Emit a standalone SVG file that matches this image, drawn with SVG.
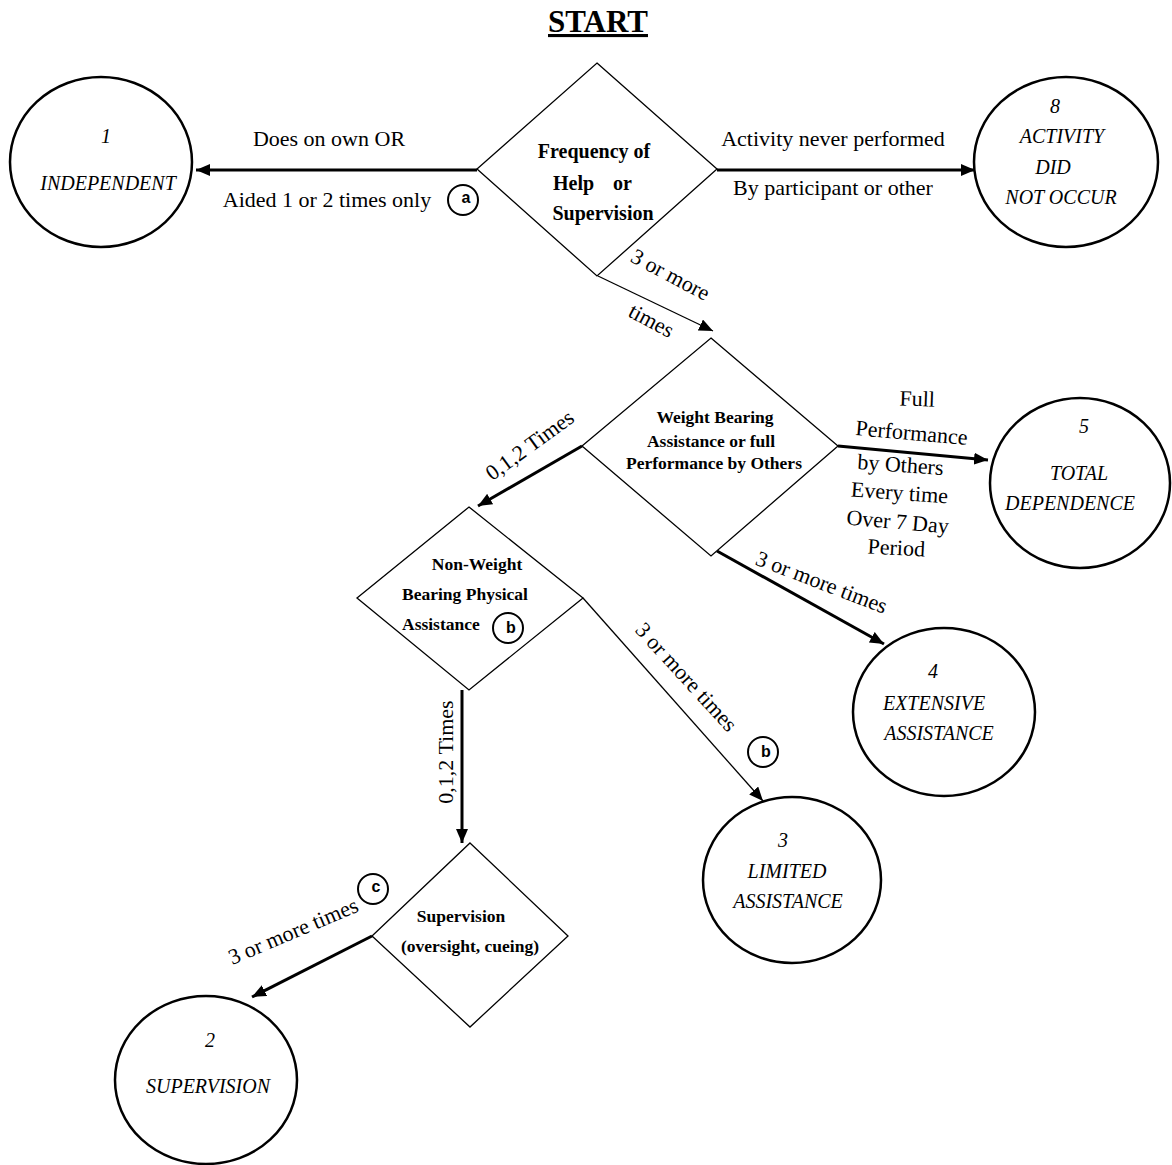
<svg xmlns="http://www.w3.org/2000/svg" width="1172" height="1165" viewBox="0 0 1172 1165">
<style>
.bg{fill:#fff}
.c{fill:#fff;stroke:#000;stroke-width:2.5}
.d{fill:#fff;stroke:#000;stroke-width:1.3}
.thick{fill:none;stroke:#000;stroke-width:3}
.thin{fill:none;stroke:#000;stroke-width:1.3}
.t{font-family:"Liberation Serif","Times New Roman",serif;font-size:22px;fill:#000}
.db{font-family:"Liberation Serif","Times New Roman",serif;font-weight:bold;font-size:17.5px;fill:#000}
.ci{font-family:"Liberation Serif","Times New Roman",serif;font-style:italic;font-size:20px;fill:#000}
.mc{fill:#fff;stroke:#000;stroke-width:2}
.ml{font-family:"Liberation Sans",Arial,sans-serif;font-weight:bold;font-size:16px;fill:#000}
</style>
<defs>
<marker id="ah" markerUnits="userSpaceOnUse" viewBox="0 0 14 12" refX="14" refY="6" markerWidth="14" markerHeight="12" orient="auto">
<path d="M0,0 L14,6 L0,12 z" fill="#000"/>
</marker>
</defs>
<rect class="bg" x="0" y="0" width="1172" height="1165"/>

<text id="title" x="598" y="32" text-anchor="middle" style="font-family:'Liberation Serif','Times New Roman',serif;font-weight:bold;font-size:31px;text-decoration:underline">START</text>

<g id="connectors">
<line class="thick" x1="477" y1="170" x2="196" y2="170" marker-end="url(#ah)"/>
<line class="thick" x1="717" y1="170" x2="975" y2="170" marker-end="url(#ah)"/>
<line class="thin" x1="598" y1="276" x2="713" y2="331" marker-end="url(#ah)"/>
<line class="thick" x1="838" y1="446" x2="988" y2="460" marker-end="url(#ah)"/>
<line class="thick" x1="582" y1="446" x2="478" y2="506" marker-end="url(#ah)"/>
<line class="thick" x1="717" y1="551" x2="884" y2="644" marker-end="url(#ah)"/>
<line class="thin" x1="583" y1="598" x2="763" y2="801" marker-end="url(#ah)"/>
<line class="thick" x1="462" y1="690" x2="462" y2="843" marker-end="url(#ah)"/>
<line class="thick" x1="372" y1="936" x2="252" y2="997" marker-end="url(#ah)"/>

<text class="t" x="329" y="146" text-anchor="middle">Does on own OR</text>
<text class="t" x="327" y="207" text-anchor="middle">Aided 1 or 2 times only</text>
<circle class="mc" cx="463" cy="200" r="15"/>
<text class="ml" x="466" y="203" text-anchor="middle">a</text>

<text class="t" x="833" y="146" text-anchor="middle">Activity never performed</text>
<text class="t" x="833" y="195" text-anchor="middle">By participant or other</text>

<text class="t" transform="translate(667,281) rotate(28)" text-anchor="middle">3 or more</text>
<text class="t" transform="translate(648,327) rotate(28)" text-anchor="middle">times</text>

<text class="t" transform="translate(917,406) rotate(2)" text-anchor="middle">Full</text>
<text class="t" transform="translate(911,440) rotate(5)" text-anchor="middle">Performance</text>
<text class="t" transform="translate(900,472) rotate(4)" text-anchor="middle">by Others</text>
<text class="t" transform="translate(899,500) rotate(4)" text-anchor="middle">Every time</text>
<text class="t" transform="translate(897,529) rotate(5)" text-anchor="middle">Over 7 Day</text>
<text class="t" transform="translate(896,555) rotate(3)" text-anchor="middle">Period</text>

<text class="t" transform="translate(534,451) rotate(-36)" text-anchor="middle">0,1,2 Times</text>
<text class="t" transform="translate(819,589) rotate(21)" text-anchor="middle">3 or more times</text>
<text class="t" transform="translate(681,682) rotate(47.5)" text-anchor="middle">3 or more times</text>
<circle class="mc" cx="763" cy="752" r="15"/>
<text class="ml" x="766" y="757" text-anchor="middle">b</text>

<text class="t" transform="translate(453,752) rotate(-90)" text-anchor="middle">0,1,2 Times</text>
<text class="t" transform="translate(296,938) rotate(-23)" text-anchor="middle">3 or more times</text>
<circle class="mc" cx="373" cy="889" r="15"/>
<text class="ml" x="376" y="892" text-anchor="middle">c</text>
</g>

<g id="d1">
<polygon class="d" points="597,63 717,169 597,276 477,169"/>
<text class="db" x="594" y="158" text-anchor="middle" style="font-size:20px">Frequency of</text>
<text class="db" x="553" y="190" style="font-size:20px">Help</text>
<text class="db" x="613" y="190" style="font-size:20px">or</text>
<text class="db" x="603" y="220" text-anchor="middle" style="font-size:20px">Supervision</text>
</g>

<g id="n1">
<ellipse class="c" cx="101" cy="162" rx="91" ry="85"/>
<text class="ci" x="106" y="143" text-anchor="middle">1</text>
<text class="ci" x="108" y="190" text-anchor="middle">INDEPENDENT</text>
</g>

<g id="n8">
<ellipse class="c" cx="1066" cy="162" rx="92" ry="85"/>
<text class="ci" x="1055" y="113" text-anchor="middle">8</text>
<text class="ci" x="1062" y="143" text-anchor="middle">ACTIVITY</text>
<text class="ci" x="1053" y="174" text-anchor="middle">DID</text>
<text class="ci" x="1061" y="204" text-anchor="middle">NOT OCCUR</text>
</g>

<g id="d2">
<polygon class="d" points="711,338 838,446 711,556 582,446"/>
<text class="db" x="715" y="423" text-anchor="middle">Weight Bearing</text>
<text class="db" x="711" y="447" text-anchor="middle">Assistance or full</text>
<text class="db" x="714" y="469" text-anchor="middle">Performance by Others</text>
</g>

<g id="n5">
<ellipse class="c" cx="1080" cy="483" rx="90" ry="85"/>
<text class="ci" x="1084" y="433" text-anchor="middle">5</text>
<text class="ci" x="1079" y="480" text-anchor="middle">TOTAL</text>
<text class="ci" x="1070" y="510" text-anchor="middle">DEPENDENCE</text>
</g>

<g id="n4">
<ellipse class="c" cx="944" cy="712" rx="91" ry="84"/>
<text class="ci" x="933" y="678" text-anchor="middle">4</text>
<text class="ci" x="934" y="710" text-anchor="middle">EXTENSIVE</text>
<text class="ci" x="939" y="740" text-anchor="middle">ASSISTANCE</text>
</g>

<g id="d3">
<polygon class="d" points="469,507 583,598 469,690 357,598"/>
<text class="db" x="477" y="570" text-anchor="middle">Non-Weight</text>
<text class="db" x="465" y="600" text-anchor="middle">Bearing Physical</text>
<text class="db" x="402" y="630">Assistance</text>
<circle class="mc" cx="508" cy="628" r="15"/>
<text class="ml" x="511" y="633" text-anchor="middle">b</text>
</g>

<g id="n3">
<ellipse class="c" cx="792" cy="880" rx="89" ry="83"/>
<text class="ci" x="783" y="847" text-anchor="middle">3</text>
<text class="ci" x="787" y="878" text-anchor="middle">LIMITED</text>
<text class="ci" x="788" y="908" text-anchor="middle">ASSISTANCE</text>
</g>

<g id="d4">
<polygon class="d" points="470,843 568,936 470,1027 372,936"/>
<text class="db" x="461" y="922" text-anchor="middle">Supervision</text>
<text class="db" x="470" y="952" text-anchor="middle">(oversight, cueing)</text>
</g>

<g id="n2">
<ellipse class="c" cx="206" cy="1080" rx="91" ry="84"/>
<text class="ci" x="210" y="1047" text-anchor="middle">2</text>
<text class="ci" x="208" y="1093" text-anchor="middle">SUPERVISION</text>
</g>
</svg>
